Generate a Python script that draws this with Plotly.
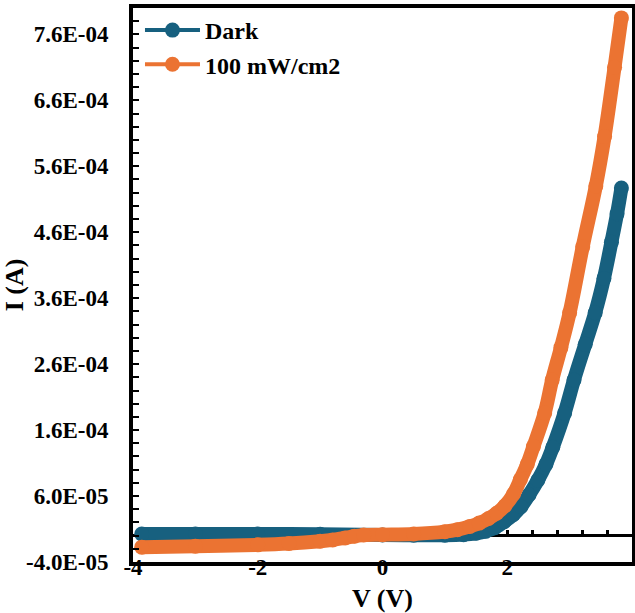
import plotly.graph_objects as go

# ---- data ----
v_dark = [-3.86, -3.0, -2.0, -1.0, 0.0, 0.5, 1.0, 1.3, 1.5, 1.65, 1.8, 1.95, 2.1, 2.22,
          2.35, 2.49, 2.62, 2.73, 2.92, 3.07, 3.25, 3.41, 3.55, 3.67, 3.76, 3.83]
i_dark = [2.5e-6, 2.5e-6, 2.5e-6, 2e-6, 1e-6, 0.5e-6, 0.5e-6, 1.5e-6, 3.5e-6, 6.5e-6, 1.2e-5,
          2.1e-5, 3.2e-5, 4.4e-5, 6.2e-5, 8.4e-5, 1.08e-4, 1.34e-4, 1.86e-4, 2.36e-4, 2.9e-4,
          3.38e-4, 3.9e-4, 4.45e-4, 4.88e-4, 5.27e-4]

v_light = [-3.86, -3.0, -2.0, -1.5, -1.0, -0.8, -0.6, -0.45, -0.3, 0.0, 0.5, 1.0, 1.2, 1.4,
           1.55, 1.7, 1.83, 1.96, 2.1, 2.21, 2.32, 2.42, 2.6, 2.72, 2.86, 3.0, 3.21, 3.42,
           3.56, 3.72, 3.83]
i_light = [-1.75e-5, -1.6e-5, -1.4e-5, -1.2e-5, -8.5e-6, -6.5e-6, -3.5e-6, -1e-6, 1e-6, 1.5e-6,
           2.5e-6, 6e-6, 9e-6, 1.4e-5, 1.9e-5, 2.6e-5, 3.4e-5, 4.5e-5, 6.3e-5, 8.5e-5, 1.08e-4,
           1.35e-4, 1.86e-4, 2.36e-4, 2.85e-4, 3.38e-4, 4.38e-4, 5.3e-4, 6.05e-4, 7.1e-4, 7.85e-4]

series_names = ["Dark", "100 mW/cm2"]
colors = ["#17607f", "#eb7332"]

y_tickvals = [-4e-5, 6e-5, 1.6e-4, 2.6e-4, 3.6e-4, 4.6e-4, 5.6e-4, 6.6e-4, 7.6e-4]
y_ticktext = ["-4.0E-05", "6.0E-05", "1.6E-04", "2.6E-04", "3.6E-04", "4.6E-04",
              "5.6E-04", "6.6E-04", "7.6E-04"]
x_tickvals = [-4, -2, 0, 2, 4]
x_ticktext = ["-4", "-2", "0", "2", "4"]
# tick marks on the zero line that remain visible right of the curves
zero_line_ticks = [2.0, 2.4, 2.8, 3.2, 3.6]

y_range = [-4e-5, 8e-4]
x_range = [-4, 4]

FONT = "Liberation Serif"

fig = go.Figure()
for v, i, c in [(v_dark, i_dark, colors[0]), (v_light, i_light, colors[1])]:
    fig.add_trace(go.Scatter(
        x=v, y=i, mode="lines+markers", showlegend=False,
        line=dict(color=c, width=14, shape="spline"),
        marker=dict(color=c, size=15, line=dict(width=0)),
        xaxis="x", yaxis="y"))

# legend-only entries (placed on the zero-line axis so that it gets drawn)
for n, c in zip(series_names, colors):
    fig.add_trace(go.Scatter(
        x=[None], y=[None], mode="lines+markers", name=n,
        line=dict(color=c, width=4), marker=dict(color=c, size=15),
        xaxis="x2", yaxis="y"))

zero_pos = (0 - y_range[0]) / (y_range[1] - y_range[0])

fig.update_layout(
    width=635, height=613,
    margin=dict(l=133, r=3, t=8, b=51, autoexpand=False),
    paper_bgcolor="white", plot_bgcolor="white",
    font=dict(family=FONT, size=23, color="black", weight="bold"),
    showlegend=True,
    legend=dict(x=0.014, y=1.0, xanchor="left", yanchor="top",
                bgcolor="rgba(0,0,0,0)", itemwidth=55,
                font=dict(family=FONT, size=24, color="black", weight="bold")),
    xaxis=dict(range=x_range, tickvals=x_tickvals, ticktext=x_ticktext,
               showline=True, linecolor="black", linewidth=4, mirror=True,
               ticks="", showgrid=False, zeroline=False, automargin=False,
               ticklabelstandoff=-19,
               title=dict(text="V (V)", font=dict(size=26, family=FONT, weight="bold"),
                          standoff=14)),
    xaxis2=dict(range=x_range, overlaying="x", anchor="free", position=zero_pos,
                side="bottom", showline=False,
                tickmode="array", tickvals=zero_line_ticks,
                ticks="inside", ticklen=6, tickwidth=2.5,
                tickcolor="black", automargin=False,
                showticklabels=False, showgrid=False, zeroline=False),
    yaxis=dict(range=y_range, tickvals=y_tickvals, ticktext=y_ticktext,
               showline=True, linecolor="black", linewidth=4, mirror=True,
               ticks="inside", ticklen=6, tickwidth=2, tickcolor="black",
               minor=dict(dtick=2e-5, tick0=-4e-5, ticks="inside", ticklen=6,
                          tickwidth=2, tickcolor="black"),
               showgrid=False, zeroline=True, zerolinecolor="black", zerolinewidth=2.5,
               ticklabelstandoff=16, automargin=False,
               title=dict(text="I (A)", font=dict(size=26, family=FONT, weight="bold"),
                          standoff=1)),
)

fig.write_html("out.html")
